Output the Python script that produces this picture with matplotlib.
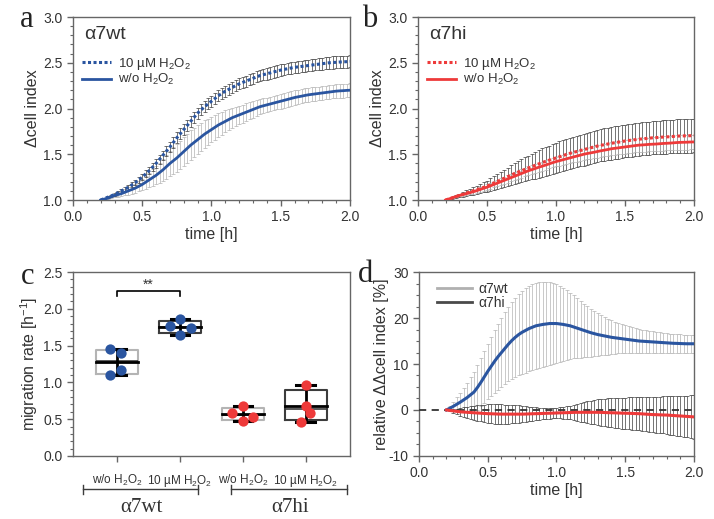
import numpy as np
import matplotlib
matplotlib.use("Agg")
import matplotlib.pyplot as plt
from matplotlib.ticker import MultipleLocator
from matplotlib.lines import Line2D

plt.rcParams['font.family'] = ['Liberation Sans', 'DejaVu Sans']
plt.rcParams['mathtext.fontset'] = 'custom'
plt.rcParams['mathtext.rm'] = 'Liberation Sans'
plt.rcParams['mathtext.it'] = 'Liberation Sans:italic'
plt.rcParams['axes.unicode_minus'] = False

# time grid of the readings [h], one row below = 0.1 h
time_h = np.round(np.arange(0.20, 2.0001, 0.025), 3)

# panel a: alpha7wt, delta cell index
wt_h2o2 = [1.00, 1.015, 1.03, 1.045, 1.06, 1.08, 1.10, 1.12,
           1.14, 1.165, 1.19, 1.22, 1.25, 1.285, 1.32, 1.36,
           1.40, 1.445, 1.49, 1.535, 1.58, 1.63, 1.68, 1.725,
           1.77, 1.815, 1.86, 1.905, 1.95, 1.985, 2.02, 2.05,
           2.08, 2.11, 2.14, 2.165, 2.19, 2.21, 2.23, 2.25,
           2.27, 2.285, 2.30, 2.315, 2.33, 2.345, 2.36, 2.37,
           2.38, 2.39, 2.40, 2.41, 2.42, 2.428, 2.435, 2.443,
           2.45, 2.455, 2.46, 2.465, 2.47, 2.475, 2.48, 2.485,
           2.49, 2.495, 2.50, 2.503, 2.505, 2.508, 2.51, 2.512,
           2.515]
wt_h2o2_sd = [0.0, 0.005, 0.01, 0.012, 0.015, 0.018, 0.02, 0.022,
              0.025, 0.028, 0.03, 0.032, 0.035, 0.038, 0.04, 0.042,
              0.045, 0.048, 0.05, 0.052, 0.055, 0.058, 0.06, 0.06,
              0.06, 0.06, 0.06, 0.06, 0.06, 0.06, 0.06, 0.06,
              0.06, 0.06, 0.06, 0.06, 0.06, 0.06, 0.06, 0.06,
              0.06, 0.06, 0.06, 0.06, 0.06, 0.06, 0.06, 0.06,
              0.063, 0.063, 0.063, 0.063, 0.063, 0.063, 0.063, 0.063,
              0.063, 0.063, 0.063, 0.063, 0.063, 0.063, 0.063, 0.063,
              0.066, 0.066, 0.066, 0.066, 0.066, 0.066, 0.066, 0.066,
              0.066]
wt_ctrl = [1.00, 1.01, 1.02, 1.035, 1.05, 1.06, 1.07, 1.085,
           1.10, 1.115, 1.13, 1.15, 1.17, 1.195, 1.22, 1.245,
           1.27, 1.30, 1.33, 1.365, 1.40, 1.43, 1.46, 1.495,
           1.53, 1.565, 1.60, 1.63, 1.66, 1.69, 1.72, 1.745,
           1.77, 1.795, 1.82, 1.84, 1.86, 1.88, 1.90, 1.915,
           1.93, 1.945, 1.96, 1.975, 1.99, 2.005, 2.02, 2.03,
           2.04, 2.05, 2.06, 2.07, 2.08, 2.09, 2.10, 2.11,
           2.12, 2.128, 2.135, 2.143, 2.15, 2.155, 2.16, 2.165,
           2.17, 2.175, 2.18, 2.185, 2.19, 2.193, 2.195, 2.198,
           2.20]
wt_ctrl_sd = [0.0, 0.005, 0.01, 0.015, 0.02, 0.025, 0.03, 0.035,
              0.04, 0.045, 0.05, 0.055, 0.06, 0.07, 0.08, 0.09,
              0.10, 0.11, 0.12, 0.13, 0.14, 0.145, 0.15, 0.155,
              0.16, 0.16, 0.16, 0.158, 0.155, 0.152, 0.15, 0.145,
              0.14, 0.135, 0.13, 0.125, 0.12, 0.115, 0.11, 0.105,
              0.10, 0.098, 0.095, 0.092, 0.09, 0.088, 0.085, 0.082,
              0.08, 0.08, 0.08, 0.08, 0.08, 0.079, 0.078, 0.078,
              0.078, 0.077, 0.076, 0.076, 0.076, 0.075, 0.075, 0.075,
              0.075, 0.075, 0.075, 0.075, 0.075, 0.075, 0.075, 0.075,
              0.075]

# panel b: alpha7hi, delta cell index
hi_h2o2 = [1.00, 1.012, 1.025, 1.038, 1.05, 1.062, 1.075, 1.088,
           1.10, 1.112, 1.125, 1.138, 1.15, 1.168, 1.185, 1.202,
           1.22, 1.238, 1.255, 1.272, 1.29, 1.305, 1.32, 1.335,
           1.35, 1.365, 1.38, 1.395, 1.41, 1.422, 1.435, 1.448,
           1.46, 1.472, 1.485, 1.498, 1.51, 1.52, 1.53, 1.54,
           1.55, 1.56, 1.57, 1.58, 1.59, 1.598, 1.605, 1.612,
           1.62, 1.626, 1.632, 1.638, 1.645, 1.65, 1.655, 1.66,
           1.665, 1.668, 1.672, 1.676, 1.68, 1.682, 1.685, 1.688,
           1.69, 1.692, 1.695, 1.698, 1.70, 1.701, 1.702, 1.703,
           1.705]
hi_h2o2_sd = [0.0, 0.005, 0.01, 0.015, 0.02, 0.025, 0.03, 0.035,
              0.04, 0.045, 0.05, 0.055, 0.06, 0.068, 0.075, 0.082,
              0.09, 0.095, 0.10, 0.108, 0.115, 0.12, 0.125, 0.13,
              0.135, 0.14, 0.145, 0.15, 0.155, 0.158, 0.16, 0.162,
              0.165, 0.168, 0.17, 0.17, 0.17, 0.171, 0.172, 0.173,
              0.174, 0.174, 0.175, 0.175, 0.176, 0.176, 0.177, 0.177,
              0.178, 0.178, 0.179, 0.179, 0.18, 0.18, 0.18, 0.18,
              0.181, 0.181, 0.182, 0.182, 0.182, 0.182, 0.183, 0.183,
              0.183, 0.183, 0.184, 0.184, 0.184, 0.184, 0.185, 0.185,
              0.185]
hi_ctrl = [1.00, 1.012, 1.025, 1.038, 1.05, 1.06, 1.07, 1.08,
           1.09, 1.102, 1.115, 1.128, 1.14, 1.155, 1.17, 1.185,
           1.20, 1.215, 1.23, 1.245, 1.26, 1.275, 1.29, 1.305,
           1.32, 1.332, 1.345, 1.358, 1.37, 1.382, 1.395, 1.408,
           1.42, 1.43, 1.44, 1.45, 1.46, 1.47, 1.48, 1.49,
           1.50, 1.508, 1.515, 1.522, 1.53, 1.538, 1.545, 1.552,
           1.56, 1.565, 1.57, 1.575, 1.58, 1.585, 1.59, 1.595,
           1.60, 1.602, 1.605, 1.608, 1.61, 1.612, 1.615, 1.618,
           1.62, 1.622, 1.625, 1.628, 1.63, 1.631, 1.632, 1.634,
           1.635]
hi_ctrl_sd = [0.0, 0.003, 0.005, 0.008, 0.01, 0.012, 0.015, 0.018,
              0.02, 0.022, 0.025, 0.028, 0.03, 0.032, 0.033, 0.035,
              0.036, 0.038, 0.04, 0.042, 0.043, 0.045, 0.046, 0.047,
              0.048, 0.049, 0.05, 0.05, 0.05, 0.05, 0.05, 0.051,
              0.052, 0.054, 0.055, 0.056, 0.058, 0.059, 0.06, 0.061,
              0.062, 0.063, 0.064, 0.065, 0.066, 0.067, 0.068, 0.069,
              0.07, 0.07, 0.07, 0.071, 0.072, 0.072, 0.073, 0.073,
              0.074, 0.074, 0.075, 0.075, 0.076, 0.076, 0.077, 0.077,
              0.078, 0.078, 0.078, 0.078, 0.079, 0.079, 0.08, 0.08,
              0.08]

# panel d: relative delta-delta cell index [%]
rel_wt = [0.0, 0.4, 0.8, 1.25, 1.7, 2.2, 2.7, 3.3,
          3.9, 4.9, 6.0, 7.2, 8.4, 9.5, 10.6, 11.6,
          12.5, 13.4, 14.3, 15.1, 15.8, 16.4, 16.9, 17.3,
          17.7, 18.0, 18.3, 18.45, 18.6, 18.7, 18.8, 18.8,
          18.8, 18.7, 18.6, 18.45, 18.3, 18.05, 17.8, 17.55,
          17.3, 17.05, 16.8, 16.6, 16.4, 16.25, 16.1, 15.95,
          15.8, 15.7, 15.6, 15.5, 15.4, 15.3, 15.2, 15.1,
          15.0, 14.95, 14.9, 14.85, 14.8, 14.75, 14.7, 14.65,
          14.6, 14.55, 14.5, 14.48, 14.45, 14.42, 14.4, 14.4,
          14.4]
rel_wt_sd = [0.0, 0.5, 1.0, 1.5, 2.0, 2.6, 3.2, 3.8,
             4.4, 4.8, 5.2, 5.6, 6.0, 6.4, 6.8, 7.15,
             7.5, 7.8, 8.1, 8.35, 8.6, 8.8, 9.0, 9.15,
             9.3, 9.35, 9.4, 9.35, 9.3, 9.15, 9.0, 8.8,
             8.6, 8.25, 7.9, 7.55, 7.2, 6.85, 6.5, 6.15,
             5.8, 5.5, 5.2, 4.9, 4.6, 4.35, 4.1, 3.9,
             3.7, 3.5, 3.3, 3.15, 3.0, 2.9, 2.8, 2.7,
             2.6, 2.52, 2.45, 2.38, 2.3, 2.25, 2.2, 2.15,
             2.1, 2.05, 2.0, 2.0, 2.0, 1.95, 1.9, 1.9,
             1.9]
rel_hi = [0.0, -0.1, -0.2, -0.3, -0.4, -0.45, -0.5, -0.55,
          -0.6, -0.65, -0.7, -0.75, -0.8, -0.82, -0.85, -0.88,
          -0.9, -0.9, -0.9, -0.9, -0.9, -0.9, -0.9, -0.88,
          -0.85, -0.82, -0.8, -0.78, -0.75, -0.72, -0.7, -0.68,
          -0.65, -0.62, -0.6, -0.58, -0.55, -0.52, -0.5, -0.5,
          -0.5, -0.5, -0.5, -0.5, -0.5, -0.52, -0.55, -0.58,
          -0.6, -0.62, -0.65, -0.68, -0.7, -0.72, -0.75, -0.78,
          -0.8, -0.85, -0.9, -0.95, -1.0, -1.02, -1.05, -1.08,
          -1.1, -1.15, -1.2, -1.25, -1.3, -1.35, -1.4, -1.45,
          -1.5]
rel_hi_sd = [0.0, 0.2, 0.4, 0.6, 0.8, 1.0, 1.2, 1.35,
             1.5, 1.65, 1.8, 1.9, 2.0, 2.05, 2.1, 2.1,
             2.1, 2.08, 2.05, 2.0, 1.95, 1.88, 1.8, 1.7,
             1.6, 1.5, 1.4, 1.32, 1.25, 1.2, 1.15, 1.12,
             1.1, 1.17, 1.25, 1.38, 1.5, 1.68, 1.85, 2.02,
             2.2, 2.35, 2.5, 2.65, 2.8, 2.9, 3.0, 3.1,
             3.2, 3.25, 3.3, 3.35, 3.4, 3.45, 3.5, 3.55,
             3.6, 3.65, 3.7, 3.75, 3.8, 3.88, 3.95, 4.02,
             4.1, 4.18, 4.25, 4.32, 4.4, 4.48, 4.55, 4.62,
             4.7]

# panel c: migration rates [1/h]
groups = ['w/o H$_2$O$_2$', '10 µM H$_2$O$_2$', 'w/o H$_2$O$_2$', '10 µM H$_2$O$_2$']
rates = [[1.46, 1.40, 1.17, 1.10],
         [1.86, 1.77, 1.74, 1.65],
         [0.68, 0.59, 0.53, 0.48],
         [0.97, 0.68, 0.59, 0.46]]
jitter = [[-0.11, 0.07, 0.07, -0.11],
          [0.0, -0.16, 0.17, 0.0],
          [0.0, -0.17, 0.16, 0.0],
          [0.0, 0.0, 0.07, -0.08]]

BLUE = '#2a55a0'
RED = '#ee3a3a'
LIGHT = '#b4b4b4'
DARK = '#3c3c3c'
SPINE = '#666666'
TXT = '#333333'

fig = plt.figure(figsize=(7.14, 5.19), dpi=100)
ax_a = fig.add_axes([0.1022, 0.6146, 0.388, 0.3526])
ax_b = fig.add_axes([0.5854, 0.6146, 0.3866, 0.3526])
ax_c = fig.add_axes([0.1022, 0.1214, 0.388, 0.3545])
ax_d = fig.add_axes([0.5868, 0.1214, 0.3852, 0.3545])

eb_kw = dict(fmt='none', elinewidth=0.5, capsize=1.4, capthick=0.5)


def style(ax, xminor, yminor):
    for s in ax.spines.values():
        s.set_color(SPINE)
        s.set_linewidth(1.0)
    ax.tick_params(which='major', direction='out', length=4, width=1, color=SPINE,
                   labelsize=10, labelcolor=TXT)
    ax.tick_params(which='minor', direction='out', length=2.5, width=0.8, color=SPINE)
    if xminor:
        ax.xaxis.set_minor_locator(MultipleLocator(xminor))
    ax.yaxis.set_minor_locator(MultipleLocator(yminor))


def kinetics(ax, title, color, dotted, dotted_sd, solid, solid_sd, dotted_ecolor, solid_ecolor,
             solid_on_top):
    order = [(dotted, dotted_sd, dotted_ecolor), (solid, solid_sd, solid_ecolor)]
    if not solid_on_top:
        order = order[::-1]
    for y, e, c in order:
        ax.errorbar(time_h, y, yerr=e, ecolor=c, zorder=2, **eb_kw)
    ax.plot(time_h, solid, color=color, lw=2.0, zorder=4)
    ax.plot(time_h, dotted, color=color, lw=2.2, ls=(0, (1, 0.8)), zorder=5)
    ax.set_xlim(0, 2)
    ax.set_ylim(1.0, 3.0)
    ax.set_xticks([0, 0.5, 1.0, 1.5, 2.0])
    ax.set_yticks([1.0, 1.5, 2.0, 2.5, 3.0])
    ax.xaxis.set_major_formatter(plt.FormatStrFormatter('%.1f'))
    ax.yaxis.set_major_formatter(plt.FormatStrFormatter('%.1f'))
    style(ax, 0.1, 0.1)
    ax.set_xlabel('time [h]', fontsize=11.5, color=TXT, labelpad=2)
    ax.set_ylabel('Δcell index', fontsize=11.5, color=TXT, labelpad=2)
    ax.text(0.04, 0.905, title, transform=ax.transAxes, fontsize=14, color=TXT, va='center')
    handles = [Line2D([], [], color=color, lw=2.2, ls=(0, (1, 0.8))),
               Line2D([], [], color=color, lw=2.0)]
    ax.legend(handles, ['10 µM H$_2$O$_2$', 'w/o H$_2$O$_2$'], loc='upper left',
              bbox_to_anchor=(0.0, 0.84), frameon=False, fontsize=9.5, handlelength=2.2,
              handletextpad=0.5, labelspacing=0.05, borderaxespad=0.3, labelcolor=TXT)


kinetics(ax_a, 'α7wt', BLUE, wt_h2o2, wt_h2o2_sd, wt_ctrl, wt_ctrl_sd, DARK, LIGHT, False)
kinetics(ax_b, 'α7hi', RED, hi_h2o2, hi_h2o2_sd, hi_ctrl, hi_ctrl_sd, DARK, LIGHT, True)

# panel c: box plots
box_edge = [LIGHT, DARK, LIGHT, DARK]
dot_col = [BLUE, BLUE, RED, RED]
for i, vals in enumerate(rates):
    v = np.array(vals)
    q1, med, q3 = np.percentile(v, [25, 50, 75], method='weibull')
    stats = [dict(med=med, q1=q1, q3=q3, whislo=q1, whishi=q3, mean=v.mean())]
    ax_c.bxp(stats, positions=[i], widths=0.68, showfliers=False, showcaps=False,
             boxprops=dict(color=box_edge[i], lw=1.5),
             whiskerprops=dict(lw=0), medianprops=dict(color=DARK, lw=1.2),
             manage_ticks=False, zorder=2)
    # min-max range and mean line
    ax_c.plot([i, i], [v.min(), v.max()], color='black', lw=2.0, zorder=3)
    ax_c.plot([i - 0.15, i + 0.15], [v.max(), v.max()], color='black', lw=2.2, zorder=3)
    ax_c.plot([i - 0.15, i + 0.15], [v.min(), v.min()], color='black', lw=2.2, zorder=3)
    ax_c.plot([i - 0.34, i + 0.34], [v.mean(), v.mean()], color='black', lw=2.0, zorder=3)
    ax_c.scatter(i + np.array(jitter[i]), v, s=55, color=dot_col[i], zorder=4, lw=0)

ax_c.set_xlim(-0.7, 3.7)
ax_c.set_ylim(0, 2.5)
ax_c.set_yticks([0.0, 0.5, 1.0, 1.5, 2.0, 2.5])
ax_c.yaxis.set_major_formatter(plt.FormatStrFormatter('%.1f'))
ax_c.set_xticks(range(4))
ax_c.set_xticklabels(groups)
style(ax_c, None, 0.1)
ax_c.tick_params(axis='x', labelsize=8.5, pad=8)
ax_c.set_ylabel('migration rate [h$^{-1}$]', fontsize=11.5, color=TXT, labelpad=2)
# significance bracket
ax_c.plot([0, 0, 1, 1], [2.18, 2.245, 2.245, 2.18], color='black', lw=1.2)
ax_c.text(0.5, 2.33, '**', ha='center', va='center', fontsize=10, color=TXT)
# group brackets below the axis
trans = ax_c.get_xaxis_transform()
for x0, x1, label, xc in [(-0.54, 1.29, 'α7wt', 0.38), (1.81, 3.65, 'α7hi', 2.75)]:
    ax_c.plot([x0, x1], [-0.18, -0.18], color=DARK, lw=1.0, transform=trans, clip_on=False)
    for xe in (x0, x1):
        ax_c.plot([xe, xe], [-0.155, -0.205], color=DARK, lw=1.0, transform=trans,
                  clip_on=False)
    ax_c.text(xc, -0.28, label, transform=trans, ha='center', va='center', fontsize=15,
              family='Liberation Serif', color=TXT)

# panel d
ax_d.errorbar(time_h, rel_wt, yerr=rel_wt_sd, ecolor=LIGHT, zorder=2, **eb_kw)
ax_d.errorbar(time_h, rel_hi, yerr=rel_hi_sd, ecolor=DARK, zorder=2, **eb_kw)
ax_d.axhline(0, color='#333333', lw=1.3, ls=(0, (4, 3)), zorder=3)
ax_d.plot(time_h, rel_wt, color=BLUE, lw=2.2, zorder=4)
ax_d.plot(time_h, rel_hi, color=RED, lw=2.2, zorder=4)
ax_d.set_xlim(0, 2)
ax_d.set_ylim(-10, 30)
ax_d.set_xticks([0, 0.5, 1.0, 1.5, 2.0])
ax_d.set_yticks([-10, 0, 10, 20, 30])
ax_d.xaxis.set_major_formatter(plt.FormatStrFormatter('%.1f'))
style(ax_d, 0.1, 2.5)
ax_d.set_xlabel('time [h]', fontsize=11.5, color=TXT, labelpad=2)
ax_d.set_ylabel('relative ΔΔcell index [%]', fontsize=11.5, color=TXT, labelpad=0)
handles = [Line2D([], [], color='#b0b0b0', lw=2.0), Line2D([], [], color='#4a4a4a', lw=2.0)]
ax_d.legend(handles, ['α7wt', 'α7hi'], loc='upper left', frameon=False, fontsize=10,
            handlelength=2.5, handletextpad=0.45, labelspacing=0.0, borderaxespad=0.0,
            bbox_to_anchor=(0.045, 0.975), labelcolor=TXT)

# panel letters
for x, y, s in [(0.038, 0.963, 'a'), (0.518, 0.963, 'b'), (0.038, 0.468, 'c'),
                (0.512, 0.472, 'd')]:
    fig.text(x, y, s, fontsize=22, family='Liberation Serif', ha='center', va='center',
             color='#222222')

fig.savefig('out.png', dpi=100)
